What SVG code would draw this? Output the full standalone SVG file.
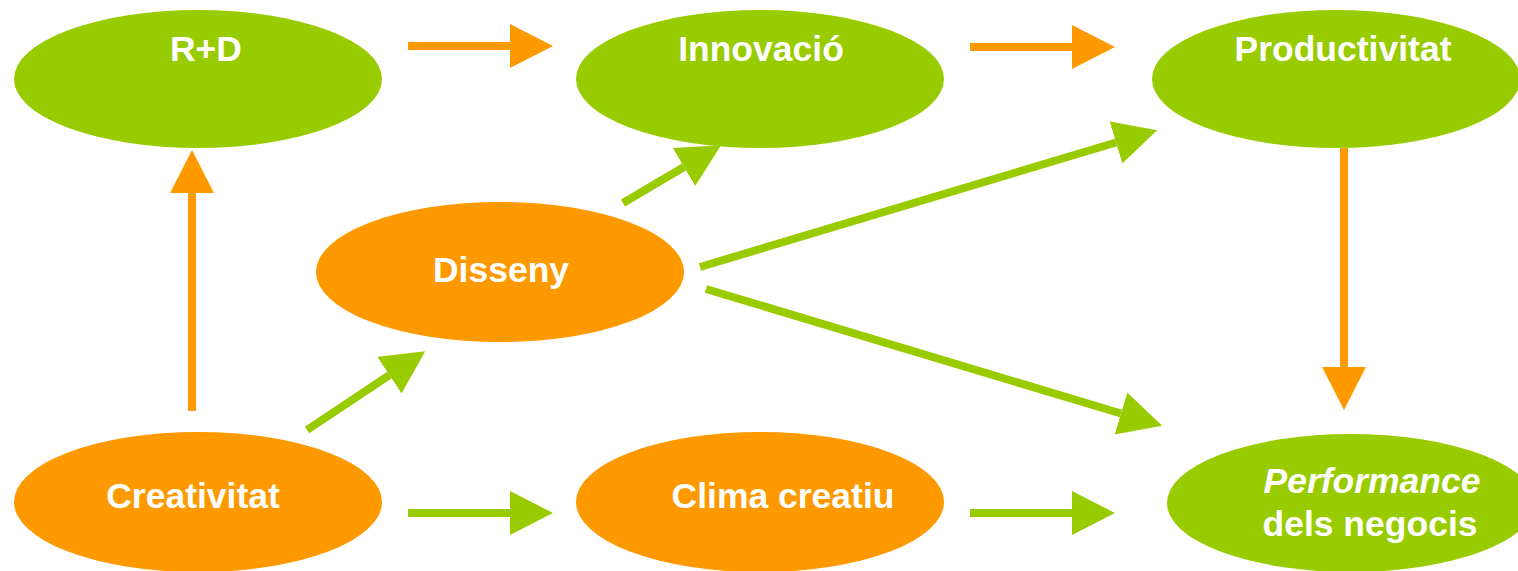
<svg xmlns="http://www.w3.org/2000/svg" width="1518" height="571" viewBox="0 0 1518 571">
<style>
.g{fill:#99CC00}
.o{fill:#FF9900}
.t{font-family:"Liberation Sans",Arial,sans-serif;font-weight:bold;font-size:35.5px;fill:#FFFFFF;text-anchor:middle}
.lo{stroke:#FF9900;stroke-width:8;fill:none}
.lg{stroke:#99CC00;stroke-width:8;fill:none}
</style>
<defs>
<marker id="ho" markerUnits="userSpaceOnUse" markerWidth="44" markerHeight="46" refX="0" refY="22" orient="auto" viewBox="0 0 44 46"><path d="M0,0 L43,22 L0,44 z" fill="#FF9900"/></marker>
<marker id="hg" markerUnits="userSpaceOnUse" markerWidth="44" markerHeight="46" refX="0" refY="22" orient="auto" viewBox="0 0 44 46"><path d="M0,0 L43,22 L0,44 z" fill="#99CC00"/></marker>
</defs>
<rect width="1518" height="571" fill="#FFFFFF"/>
<g id="rd"><ellipse class="g" cx="198" cy="79" rx="184" ry="69"/><text class="t" x="206" y="61">R+D</text></g>
<g id="innovacio"><ellipse class="g" cx="760" cy="79" rx="184" ry="69"/><text class="t" x="761" y="61">Innovació</text></g>
<g id="productivitat"><ellipse class="g" cx="1336" cy="79" rx="184" ry="69"/><text class="t" x="1343" y="61">Productivitat</text></g>
<g id="disseny"><ellipse class="o" cx="500" cy="272" rx="184" ry="70"/><text class="t" x="501" y="282">Disseny</text></g>
<g id="creativitat"><ellipse class="o" cx="198" cy="502" rx="184" ry="70"/><text class="t" x="193" y="508">Creativitat</text></g>
<g id="clima"><ellipse class="o" cx="760" cy="502" rx="184" ry="70"/><text class="t" x="783" y="508">Clima creatiu</text></g>
<g id="performance"><ellipse class="g" cx="1351" cy="503" rx="184" ry="69"/><text class="t" x="1372" y="493" font-style="italic">Performance</text><text class="t" x="1370" y="536">dels negocis</text></g>
<g id="connectors">
<line class="lo" x1="408" y1="46" x2="510" y2="46" marker-end="url(#ho)"/>
<line class="lo" x1="970" y1="47" x2="1072" y2="47" marker-end="url(#ho)"/>
<line class="lo" x1="192" y1="411" x2="192" y2="193" marker-end="url(#ho)"/>
<line class="lo" x1="1344" y1="148" x2="1344" y2="367" marker-end="url(#ho)"/>
<line class="lg" x1="408" y1="513" x2="510" y2="513" marker-end="url(#hg)"/>
<line class="lg" x1="970" y1="513" x2="1072" y2="513" marker-end="url(#hg)"/>
<line class="lg" x1="307" y1="430" x2="389.4" y2="375.1" marker-end="url(#hg)"/>
<line class="lg" x1="623" y1="203" x2="684" y2="167" marker-end="url(#hg)"/>
<line class="lg" x1="700" y1="267" x2="1116" y2="142.5" marker-end="url(#hg)"/>
<line class="lg" x1="706" y1="289" x2="1121" y2="413.5" marker-end="url(#hg)"/>
</g>
</svg>
